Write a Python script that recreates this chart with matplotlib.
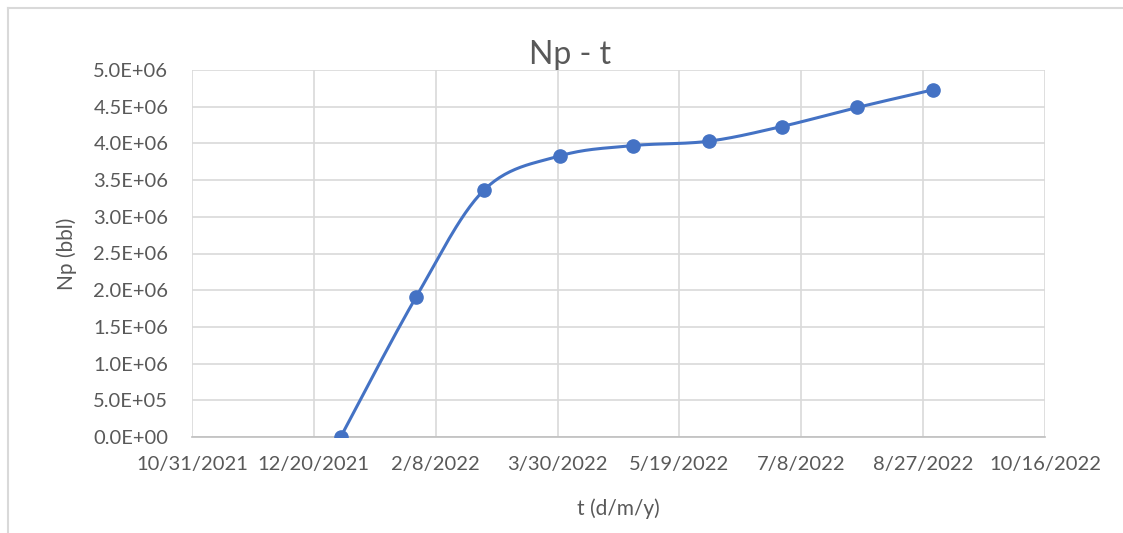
import datetime as dt
import numpy as np
import matplotlib
matplotlib.use('Agg')
import matplotlib.pyplot as plt
import matplotlib.dates as mdates
import matplotlib.lines as mlines

# Data
dates = ['2021-12-31', '2022-01-31', '2022-02-28', '2022-03-31', '2022-04-30',
         '2022-05-31', '2022-06-30', '2022-07-31', '2022-08-31']
np_bbl = [0.0, 1.91e6, 3.37e6, 3.83e6, 3.97e6, 4.03e6, 4.23e6, 4.49e6, 4.73e6]
tick_dates = ['2021-10-31', '2021-12-20', '2022-02-08', '2022-03-30', '2022-05-19',
              '2022-07-08', '2022-08-27', '2022-10-16']
y_ticks = [0, 5e5, 1e6, 1.5e6, 2e6, 2.5e6, 3e6, 3.5e6, 4e6, 4.5e6, 5e6]

blue = '#4472C4'
txt = '#595959'
grid = '#d9d9d9'
plt.rcParams['font.family'] = ['Lato', 'DejaVu Sans']


def smooth(xs, ys, n=30):
    # Catmull-Rom style smoothing, like the spreadsheet "smoothed line"
    px = np.concatenate([[xs[0]], xs, [xs[-1]]])
    py = np.concatenate([[ys[0]], ys, [ys[-1]]])
    outx, outy = [], []
    t = np.linspace(0, 1, n)
    for i in range(1, len(px) - 2):
        for p, out in ((px, outx), (py, outy)):
            p0, p1, p2, p3 = p[i-1], p[i], p[i+1], p[i+2]
            c1 = p1 + (p2 - p0) / 6.
            c2 = p2 - (p3 - p1) / 6.
            out.extend((1-t)**3*p1 + 3*(1-t)**2*t*c1 + 3*(1-t)*t**2*c2 + t**3*p2)
    return np.array(outx), np.array(outy)


x = mdates.date2num([dt.date.fromisoformat(d) for d in dates])
xt = mdates.date2num([dt.date.fromisoformat(d) for d in tick_dates])

fig = plt.figure(figsize=(11.23, 5.33), dpi=100)
ax = fig.add_axes([192/1123, 96/533, 853/1123, 367/533])

sx, sy = smooth(x, np.array(np_bbl))
ax.plot(sx, sy, color=blue, lw=2.2, zorder=3, solid_capstyle='round')
ax.plot(x, np_bbl, 'o', color=blue, ms=9.5, zorder=4)

ax.set_xlim(xt[0], xt[-1])
ax.set_ylim(0, 5e6)
ax.set_xticks(xt)
ax.set_xticklabels([f'{d.month}/{d.day}/{d.year}' for d in mdates.num2date(xt)])
ax.set_yticks(y_ticks)
ax.set_yticklabels([f'{v:.1E}' for v in y_ticks])
ax.tick_params(length=0, labelsize=14.5, colors=txt)
ax.tick_params(axis='x', pad=14)
ax.tick_params(axis='y', pad=17)
ax.grid(True, color=grid, lw=1.2)
ax.set_axisbelow(True)
for s in ['top', 'right', 'left']:
    ax.spines[s].set_visible(False)
ax.spines['bottom'].set_color('#bfbfbf')
ax.spines['bottom'].set_linewidth(1.2)

fig.text(570/1123, 1-55/533, 'Np - t', fontsize=23, color=txt, ha='center', va='center')
ax.set_xlabel('t (d/m/y)', fontsize=15, color=txt, labelpad=18)
ax.set_ylabel('Np (bbl)', fontsize=15, color=txt, labelpad=12)

# outer chart border (top and left only visible)
fig.add_artist(mlines.Line2D([7.5/1123, 1], [1-8/533, 1-8/533], color=grid, lw=1.5,
                             transform=fig.transFigure))
fig.add_artist(mlines.Line2D([7.5/1123, 7.5/1123], [0, 1-8/533], color=grid, lw=1.5,
                             transform=fig.transFigure))

fig.savefig('out.png', dpi=100)
